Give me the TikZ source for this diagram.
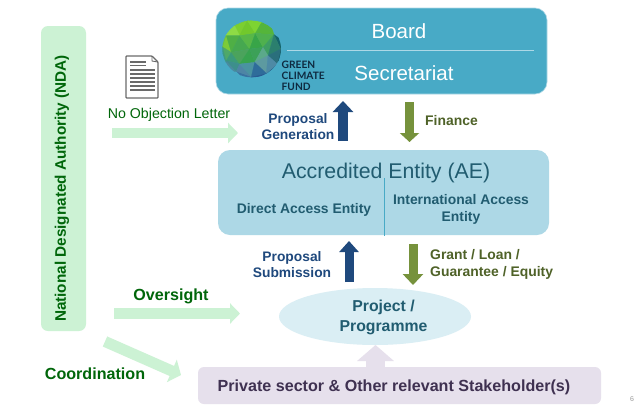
\documentclass[tikz,border=0pt]{standalone}
\usepackage{fontspec}
\usetikzlibrary{arrows.meta,shapes.geometric}
\setmainfont{Liberation Sans}
\newfontfamily\logofont{Lato}
\definecolor{gcfblue}{HTML}{48AAC6}
\definecolor{aeblue}{HTML}{ADD8E6}
\definecolor{aetext}{HTML}{215C70}
\definecolor{ellfill}{HTML}{DAEEF4}
\definecolor{ndagreen}{HTML}{CCF2D4}
\definecolor{txtgreen}{HTML}{00660A}
\definecolor{navy}{HTML}{1F497D}
\definecolor{olive}{HTML}{76923C}
\definecolor{olivetxt}{HTML}{4F6228}
\definecolor{lilac}{HTML}{E6E0EC}
\definecolor{lilactxt}{HTML}{3F3151}
\definecolor{docgray}{HTML}{6A6A6A}
\definecolor{logonavy}{HTML}{0E2A40}
\tikzset{
  px/.style={x=1pt,y=-1pt},
  panel/.style={rounded corners=#1,draw=none,inner sep=0pt},
  lab/.style={font=\bfseries\fontsize{#1}{#1}\selectfont,align=center,inner sep=0pt},
  block/.style n args={4}{draw=#1,line width=#2pt,-{Triangle[width=#3pt,length=#4pt,fill=#1]}},
  logotxt/.style={font=\logofont\bfseries\fontsize{10.2}{11}\selectfont,text=logonavy,anchor=west,inner sep=0pt},
  docline/.style={draw=docgray,line width=1.1pt},
}
\newcommand{\tri}[4]{\definecolor{tmpc}{HTML}{#4}\fill[fill=tmpc,draw=tmpc,line width=.2pt] (#1) -- (#2) -- (#3) -- cycle;}
\begin{document}
\begin{tikzpicture}[px]
\useasboundingbox (0,0) rectangle (640,408);
\fill[white] (0,0) rectangle (640,408);
% NDA
\node[panel=7pt,fill=ndagreen,minimum width=45pt,minimum height=305pt] (nda) at (63.5,178.5) {};
\node[rotate=90,lab=15.3,text=txtgreen] (ndat) at (62,188.5) {National Designated Authority (NDA)};
% Board
\node[panel=12pt,fill=gcfblue,draw=aeblue,line width=.6pt,minimum width=331pt,minimum height=86pt] (board) at (381.5,51) {};
\coordinate (la) at (287,50.5); \coordinate (lb) at (534,50.5);
\draw[draw=aeblue,line width=.6pt] (la) -- (lb);
\node[font=\fontsize{20.5}{24}\selectfont,text=white,inner sep=0pt] (bt) at (399,31) {Board};
\node[font=\fontsize{20.5}{24}\selectfont,text=white,inner sep=0pt] (st) at (404,73) {Secretariat};
% logo sphere
\begin{scope}[shift={(218,14)},x=.3333pt,y=-.3333pt]
\clip (101,105) ellipse [x radius=88,y radius=85];
\coordinate (A) at (88,20); \coordinate (B) at (50,35); \coordinate (C) at (128,30);
\coordinate (D) at (25,65); \coordinate (E) at (65,65); \coordinate (F) at (112,58);
\coordinate (G) at (168,62); \coordinate (H) at (188,105); \coordinate (I) at (15,100);
\coordinate (J) at (95,105); \coordinate (K) at (135,100); \coordinate (L) at (40,115);
\coordinate (M) at (65,150); \coordinate (N) at (110,145); \coordinate (O) at (150,125);
\coordinate (P) at (178,150); \coordinate (Q) at (25,140); \coordinate (R) at (100,188);
\coordinate (S) at (145,178); \coordinate (T) at (55,172);
\coordinate (TL) at (40,0); \coordinate (TR) at (150,5); \coordinate (LF) at (-10,70);
\coordinate (RT) at (210,90); \coordinate (BR) at (190,190); \coordinate (BT) at (100,215);
\coordinate (BL) at (15,180);
\tri{A}{B}{TL}{7CCF30}
\tri{A}{C}{TL}{7CCF30}
\tri{A}{C}{TR}{7ED432}
\tri{C}{G}{TR}{55B53A}
\tri{G}{H}{RT}{14636A}
\tri{H}{P}{RT}{14636A}
\tri{H}{P}{BR}{1B5F70}
\tri{P}{S}{BR}{225D88}
\tri{S}{R}{BR}{2A5A92}
\tri{S}{R}{BT}{2A5A92}
\tri{R}{T}{BT}{3A72A0}
\tri{T}{Q}{BL}{4A8AA0}
\tri{Q}{I}{BL}{3F9A80}
\tri{Q}{I}{LF}{3F9A80}
\tri{I}{D}{LF}{6FC23A}
\tri{D}{B}{LF}{8EDB45}
\tri{D}{B}{TL}{8EDB45}
\tri{A}{B}{E}{7CCF30}
\tri{A}{E}{F}{72C82C}
\tri{A}{F}{C}{7ED432}
\tri{C}{F}{G}{55B53A}
\tri{B}{D}{E}{8EDB45}
\tri{D}{I}{L}{7CCB38}
\tri{D}{L}{E}{4FAF45}
\tri{E}{L}{J}{46A850}
\tri{E}{J}{F}{58B748}
\tri{F}{J}{K}{38A548}
\tri{F}{K}{G}{4FB04E}
\tri{G}{K}{O}{3E9E62}
\tri{G}{O}{H}{2B7F6E}
\tri{H}{O}{P}{2A6F7C}
\tri{I}{Q}{L}{4FA868}
\tri{L}{Q}{M}{3B9A7A}
\tri{L}{M}{J}{4BA35C}
\tri{J}{M}{N}{38A34F}
\tri{J}{N}{K}{3CA158}
\tri{K}{N}{O}{5BA98A}
\tri{O}{N}{S}{5D9AA0}
\tri{O}{S}{P}{4E8AA5}
\tri{Q}{T}{M}{3D8F8C}
\tri{M}{T}{R}{4E85A5}
\tri{M}{R}{N}{4A93A0}
\tri{N}{R}{S}{2F6C9A}
\end{scope}
\node[logotxt] (g1) at (281.5,64.7) {GREEN};
\node[logotxt] (g2) at (281.5,75.7) {CLIMATE};
\node[logotxt] (g3) at (281.5,86.7) {FUND};
% document icon
\draw[docgray,line width=1.2pt,rounded corners=.8pt,fill=white] (126,56) -- (152,56) -- (158,62) -- (158,98) -- (126,98) -- cycle;
\draw[docgray,line width=.9pt] (152,56) -- (152,61) -- (158,62);
\foreach \yy/\xe in {62/146,65.5/146,70/155,74/155,78/155,82/155,86/155,90/155}{
  \draw[docline] (130,\yy) -- (\xe,\yy);
}
\node[font=\fontsize{14.2}{16}\selectfont,text=txtgreen,inner sep=0pt] (nol) at (169,114.5) {No Objection Letter};
% AE
\node[panel=12pt,fill=aeblue,minimum width=331pt,minimum height=85pt] (ae) at (383.5,192.5) {};
\node[font=\fontsize{21.3}{24}\selectfont,text=aetext,inner sep=0pt] (aet) at (386,173) {Accredited Entity (AE)};
\coordinate (da) at (384.5,178); \coordinate (db) at (384.5,236);
\draw[draw=gcfblue,line width=.8pt] (da) -- (db);
\node[lab=13.9,text=aetext] (dae) at (304,209.5) {Direct Access Entity};
\node[lab=13.9,text=aetext,align=center] (iae) at (461,209.5) {International Access\\[2.9pt]Entity};
% Ellipse
\node[ellipse,fill=ellfill,draw=none,minimum width=192pt,minimum height=57pt,inner sep=0pt] (pp) at (375,316.5) {};
\node[lab=15.8,text=aetext,align=center] (ppt) at (383.5,317) {Project /\\[4.2pt]Programme};
% Stakeholders
\node[panel=6pt,fill=lilac,minimum width=403pt,minimum height=37pt] (ps) at (399.5,385.5) {};
\node[lab=16.1,text=lilactxt] (pst) at (394,387) {Private sector \& Other relevant Stakeholder(s)};
% green arrows
\coordinate (a1) at (112,133); \coordinate (a2) at (238,133);
\draw[block={ndagreen}{10}{20}{10}] (a1) -- (a2);
\coordinate (b1) at (114,313.5); \coordinate (b2) at (240,313.5);
\draw[block={ndagreen}{11}{20}{10}] (b1) -- (b2);
\coordinate (c1) at (105,341.5); \coordinate (c2) at (181,375);
\draw[block={ndagreen}{11}{24}{10}] (c1) -- (c2);
% lilac arrow
\coordinate (d1) at (375.5,367); \coordinate (d2) at (375.5,345);
\draw[block={lilac}{19}{36}{16}] (d1) -- (d2);
% flow arrows
\coordinate (e1) at (343,141); \coordinate (e2) at (343,101);
\draw[block={navy}{10}{20}{11}] (e1) -- (e2);
\coordinate (f1) at (409.5,102); \coordinate (f2) at (409.5,142);
\draw[block={olive}{9}{19}{9}] (f1) -- (f2);
\coordinate (g1a) at (349,282); \coordinate (g2a) at (349,241);
\draw[block={navy}{9}{19}{11}] (g1a) -- (g2a);
\coordinate (h1) at (413,244); \coordinate (h2) at (413,285);
\draw[block={olive}{9}{20}{11}] (h1) -- (h2);
% labels
\node[lab=13.8,text=navy] (pg) at (298,126.5) {Proposal\\[2.4pt]Generation};
\node[lab=13.9,text=olivetxt,anchor=west] (fin) at (425,120.5) {Finance};
\node[lab=13.8,text=navy] (psub) at (292,264.5) {Proposal\\[2.4pt]Submission};
\node[lab=13.9,text=olivetxt,align=left,anchor=west] (gl) at (430,264.5) {Grant / Loan /\\[3pt]Guarantee / Equity};
\node[lab=16.1,text=txtgreen] (ov) at (171,296) {Oversight};
\node[lab=16.1,text=txtgreen] (co) at (95,374) {Coordination};
\node[font=\fontsize{7}{8}\selectfont,text=black!40,inner sep=0pt] (pn) at (632,399) {6};
\end{tikzpicture}
\end{document}
